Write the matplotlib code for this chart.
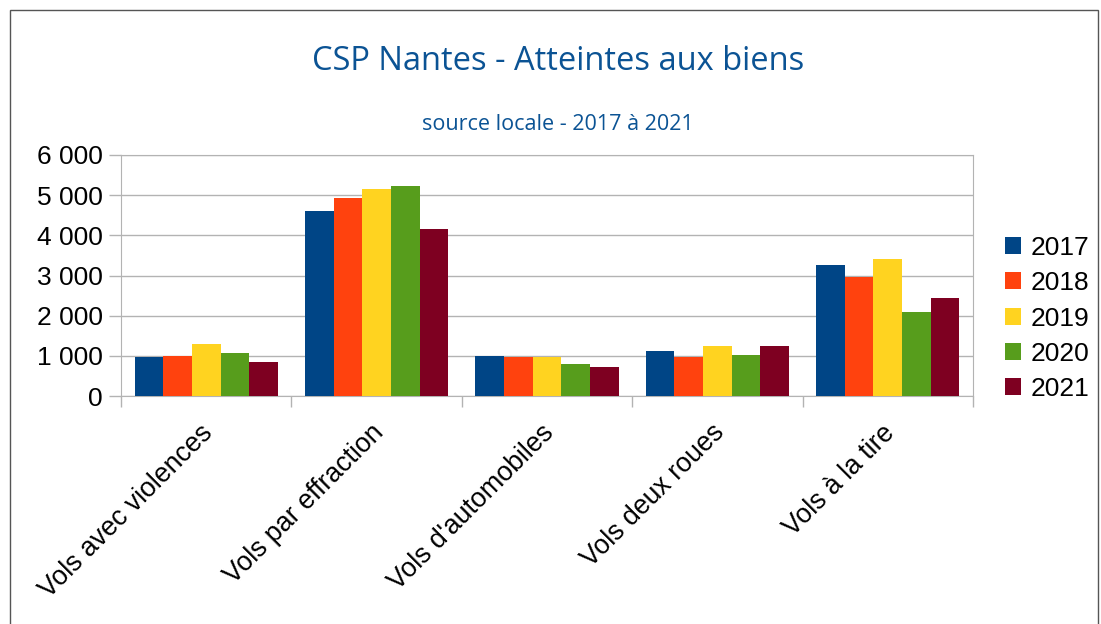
import numpy as np
import matplotlib
matplotlib.use("Agg")
import matplotlib.pyplot as plt
import matplotlib.transforms as mtransforms
from matplotlib.ticker import FuncFormatter
from matplotlib.patches import Rectangle

# data
categories = ["Vols avec violences", "Vols par effraction", "Vols d'automobiles",
              "Vols deux roues", "Vols à la tire"]
years = ["2017", "2018", "2019", "2020", "2021"]
v2017 = [970, 4610, 1000, 1130, 3270]
v2018 = [1000, 4940, 980, 980, 2970]
v2019 = [1300, 5160, 980, 1250, 3420]
v2020 = [1080, 5240, 800, 1030, 2080]
v2021 = [855, 4160, 730, 1250, 2450]
series = [v2017, v2018, v2019, v2020, v2021]
colors = ["#004586", "#ff420e", "#ffd320", "#579d1c", "#7e0021"]

plt.rcParams['font.family'] = ['Liberation Sans', 'DejaVu Sans']

fig = plt.figure(figsize=(11.01, 6.24), dpi=100)
ax = fig.add_axes([121 / 1101, 1 - 396 / 624, (973 - 121) / 1101, (396 - 155) / 624])

x = np.arange(len(categories))
w = 0.168
for i, (vals, c) in enumerate(zip(series, colors)):
    ax.bar(x + (i - 2) * w, vals, width=w, color=c, label=years[i], zorder=3)

ax.set_xlim(-0.5, len(categories) - 0.5)
ax.set_ylim(0, 6000)
ax.set_yticks(range(0, 6001, 1000))
ax.yaxis.set_major_formatter(FuncFormatter(lambda v, p: f"{int(v):,}".replace(",", " ")))
ax.grid(axis='y', color='#b3b3b3', linewidth=1, zorder=0)

# category boundaries as ticks, names as minor labels
ax.set_xticks(np.arange(-0.5, len(categories)))
ax.set_xticklabels([])
ax.set_xticks(x, minor=True)
ax.set_xticklabels(categories, minor=True, rotation=45, ha='right', va='top',
                   rotation_mode='anchor', fontsize=19.3)
ax.tick_params(axis='x', which='minor', length=0, pad=17)
ax.tick_params(axis='x', which='major', length=8, color='#b3b3b3', width=1)
ax.tick_params(axis='y', length=9, color='#b3b3b3', width=1, labelsize=19, pad=4)
shift = mtransforms.ScaledTranslation(-6 / 100, 0, fig.dpi_scale_trans)
for lbl in ax.get_xticklabels(minor=True):
    lbl.set_transform(lbl.get_transform() + shift)
for s in ax.spines.values():
    s.set_color('#b3b3b3')

ax.legend(loc='center left', bbox_to_anchor=(1005 / 1101, 1 - 318.5 / 624),
          bbox_transform=fig.transFigure, frameon=False, fontsize=19,
          borderpad=0, borderaxespad=0,
          handlelength=0.62, handleheight=0.62, handletextpad=0.34, labelspacing=0.43)

fig.text(558 / 1101, 1 - 62 / 624, "CSP Nantes - Atteintes aux biens", ha='center',
         va='center', fontsize=23.5, color='#0b5394', family=['Open Sans', 'DejaVu Sans'])
fig.text(558 / 1101, 1 - 124 / 624, "source locale - 2017 à 2021", ha='center',
         va='center', fontsize=15.5, color='#0b5394', family=['Open Sans', 'DejaVu Sans'])

fig.patches.append(Rectangle((10 / 1101, -0.01), 1088 / 1101, 1 - 10 / 624 + 0.01,
                             transform=fig.transFigure, fill=False, edgecolor='#555555',
                             linewidth=1))

fig.savefig("out.png", dpi=100)
